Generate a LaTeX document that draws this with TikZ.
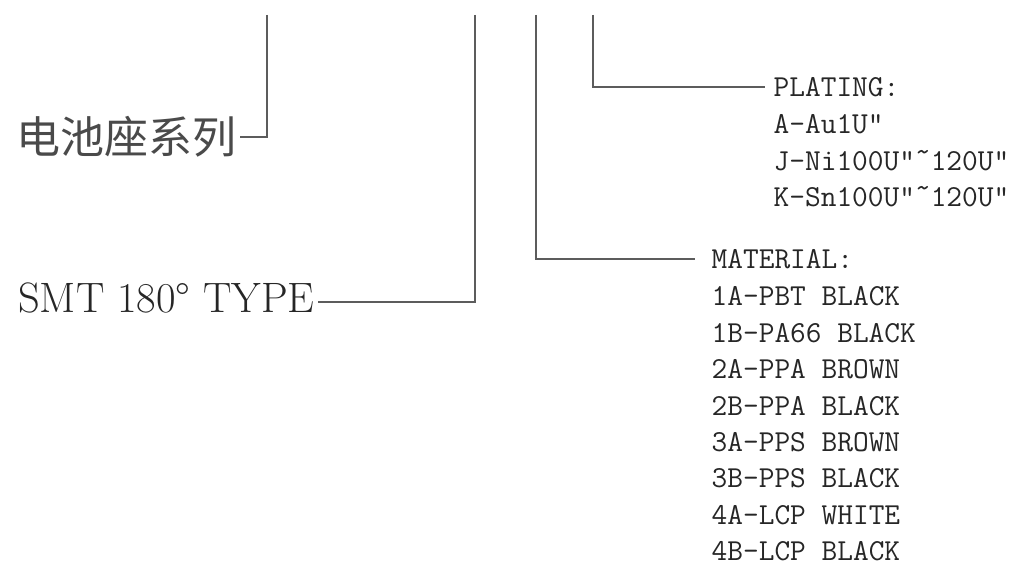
\documentclass[tikz,border=0pt]{standalone}
\usepackage{fontspec}
\newfontfamily\cjk{Noto Sans CJK SC}
\usetikzlibrary{positioning}
\definecolor{ink}{HTML}{262626}
\definecolor{cjkink}{HTML}{4A4A4A}
\definecolor{wirecol}{HTML}{5C5C5C}
\newcommand{\uptilde}{\raisebox{0.3em}{\textasciitilde}}

\begin{document}
\begin{tikzpicture}[x=1pt, y=-1pt,
  txt/.style = {inner sep=0pt, text=ink, anchor=west},
  mono/.style = {txt, font=\ttfamily\fontsize{30.5}{36.4}\selectfont, align=left},
  wire/.style = {draw=wirecol, line width=2.4pt}]
\useasboundingbox (0,0) rectangle (1035,569);
\coordinate (s1) at (267,15);
\coordinate (s2) at (475,15);
\coordinate (s3) at (536,15);
\coordinate (s4) at (593,15);
\node[txt] (series) at (12,137) [font=\cjk\fontsize{44}{50}\selectfont, inner xsep=4pt, text=cjkink] {电池座系列};
\node[txt] (type) at (15,302) [font=\fontsize{42.5}{50}\selectfont, inner xsep=3pt, text depth=9.5pt] {SMT 180° TYPE};
\node[mono] (plat) at (765,87) [inner xsep=8.5pt] {PLATING:};
\node[mono] (platlist) [below right=17.8pt and 0pt of plat.south west, inner xsep=8.5pt]
  {A-Au1U"\\J-Ni100U"\uptilde120U"\\K-Sn100U"\uptilde120U"};
\node[mono] (mat) at (695,259) [inner xsep=16.5pt] {MATERIAL:};
\node[mono] (matlist) [below right=17.8pt and 0pt of mat.south west, inner xsep=16.5pt]
  {1A-PBT BLACK\\1B-PA66 BLACK\\2A-PPA BROWN\\2B-PPA BLACK\\3A-PPS BROWN\\3B-PPS BLACK\\4A-LCP WHITE\\4B-LCP BLACK};
\draw[wire] (s1) |- (series.east);
\draw[wire] (s2) |- (type.east);
\draw[wire] (s3) |- (mat.west);
\draw[wire] (s4) |- (plat.west);
\end{tikzpicture}
\end{document}
